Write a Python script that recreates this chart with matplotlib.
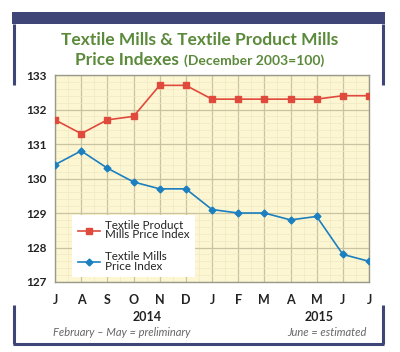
import numpy as np
import matplotlib.pyplot as plt
from matplotlib.lines import Line2D
from matplotlib.patches import Rectangle

plt.rcParams['font.family'] = ['Lato', 'DejaVu Sans']

# Datos
months = ['J', 'A', 'S', 'O', 'N', 'D', 'J', 'F', 'M', 'A', 'M', 'J', 'J']
product_mills = [131.7, 131.3, 131.7, 131.8, 132.7, 132.7, 132.3, 132.3, 132.3, 132.3, 132.3, 132.4, 132.4]
textile_mills = [130.4, 130.8, 130.3, 129.9, 129.7, 129.7, 129.1, 129.0, 129.0, 128.8, 128.9, 127.8, 127.6]
y_ticks = [127, 128, 129, 130, 131, 132, 133]

W, H = 400, 352
navy = '#3f4677'
green = '#5b8a3b'
red = '#e04a3c'
blue = '#1b7fc0'

fig = plt.figure(figsize=(4, 3.52), dpi=100)
fig.patch.set_facecolor('white')

def fx(px):
    return px / W

def fy(py):
    return 1 - py / H

# Marco azul
fig.patches.append(Rectangle((fx(12), fy(24)), fx(373), 12 / H, transform=fig.transFigure,
                             facecolor=navy, edgecolor='none'))
for xs, ys in [([14, 14], [24, 85]), ([383, 383], [24, 85]),
               ([14, 14], [305, 344]), ([383, 383], [305, 344]), ([13, 384], [344, 344])]:
    fig.lines.append(Line2D([fx(x) for x in xs], [fy(y) for y in ys], transform=fig.transFigure,
                            color=navy, lw=2.2, solid_capstyle='butt'))

# Título (segunda línea en dos tamaños, centrada como grupo)
fig.text(0.5, fy(40), 'Textile Mills & Textile Product Mills', ha='center', va='center',
         fontsize=12.5, fontweight='bold', color=green)
t1 = fig.text(0, fy(60), 'Price Indexes', ha='left', va='center',
              fontsize=12.5, fontweight='bold', color=green)
t2 = fig.text(0, fy(60.5), '(December 2003=100)', ha='left', va='center',
              fontsize=10, fontweight='bold', color=green)
r = fig.canvas.get_renderer()
w1 = t1.get_window_extent(r).width
w2 = t2.get_window_extent(r).width
gap = 5
start = (W - (w1 + gap + w2)) / 2
t1.set_x(fx(start))
t2.set_x(fx(start + w1 + gap))

ax = fig.add_axes([fx(55), fy(282), fx(369 - 55), (282 - 75) / H])
ax.set_facecolor('#fdf6d3')
x = np.arange(len(months))

ax.plot(x, product_mills, color=red, lw=1.2, marker='s', ms=4.5, label='Textile Product\nMills Price Index', zorder=3)
ax.plot(x, textile_mills, color=blue, lw=1.2, marker='D', ms=3.5, label='Textile Mills\nPrice Index', zorder=3)

ax.set_xlim(0, len(months) - 1)
ax.set_ylim(127, 133)
ax.set_xticks(x)
ax.set_xticklabels(months)
ax.set_yticks(y_ticks)
ax.set_yticks(np.arange(127, 133.01, 0.2), minor=True)
ax.set_xticks(np.arange(0, 12.01, 0.5), minor=True)
ax.grid(True, which='major', color='#c9c3a2', lw=0.9)
ax.grid(True, which='minor', color='#f0e8c2', lw=0.5)
ax.set_axisbelow(True)
ax.tick_params(which='both', length=0)
ax.tick_params(axis='x', pad=9, labelsize=9)
ax.tick_params(axis='y', pad=6, labelsize=8.5)
for lab in ax.get_xticklabels() + ax.get_yticklabels():
    lab.set_fontweight('bold')
    lab.set_color('#222222')
for s in ax.spines.values():
    s.set_color('#9a9a8a')
    s.set_linewidth(1.0)

leg = ax.legend(loc='lower left', bbox_to_anchor=(0.055, 0.025), frameon=True, fancybox=False,
                fontsize=8.4, handlelength=1.9, labelspacing=0.9, borderpad=0.45,
                handletextpad=0.45, borderaxespad=0)
leg.get_frame().set_facecolor('white')
leg.get_frame().set_edgecolor('none')
leg.get_frame().set_alpha(1)
for t in leg.get_texts():
    t.set_linespacing(0.85)
    t.set_color('#222222')

# Años y notas
fig.text(fx(147), fy(317), '2014', ha='center', va='center', fontsize=9, fontweight='bold', color='#222222')
fig.text(fx(319), fy(317), '2015', ha='center', va='center', fontsize=9, fontweight='bold', color='#222222')
fig.text(fx(122), fy(333), 'February – May = preliminary', ha='center', va='center',
         fontsize=8, style='italic', color='#666666')
fig.text(fx(367), fy(333), 'June = estimated', ha='right', va='center',
         fontsize=8, style='italic', color='#666666')

fig.savefig('out.png', dpi=100)
